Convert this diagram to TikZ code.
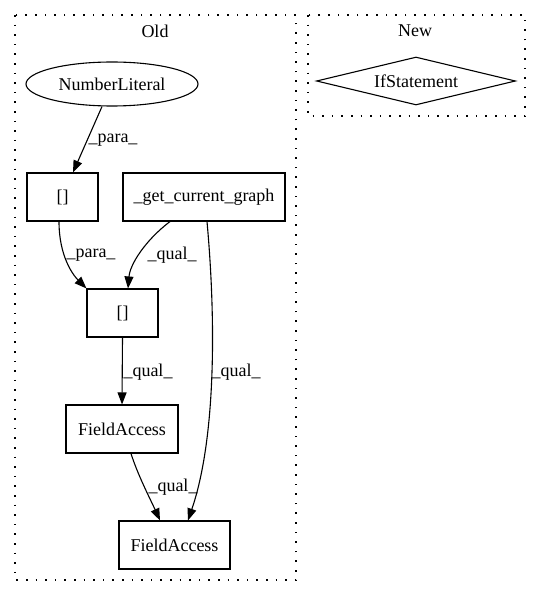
\documentclass[tikz,border=0pt]{standalone}
\usepackage{fontspec}
\setmainfont{Liberation Serif}
\usepackage{tikz}
\usetikzlibrary{arrows.meta}
\usetikzlibrary{shapes.geometric}
\tikzset{
  every node/.style={font=\fontsize{18}{21}\selectfont},
  opbox/.style={draw, line width=1.1pt, rectangle, minimum height=48pt, inner sep=0pt},
  cluster/.style={line width=1.3pt, dash pattern=on 1.6pt off 8pt},
  edge/.style={line width=1.1pt, -{Triangle[length=12pt,width=9pt]}},
  lbl/.style={inner sep=0pt}
}

\begin{document}
\begin{tikzpicture}[x=1pt,y=-1pt]
  \useasboundingbox (0,0) rectangle (541,596);
  %% clusters
  \draw[cluster] (15,15) rectangle (296,580);
  \node (oldlabel) at (155,31) {Old};
  \draw[cluster] (308,15) rectangle (525,116);
  \node (newlabel) at (415,31) {New};
  %% nodes
  \node[draw, line width=1.1pt, ellipse, minimum width=172pt, minimum height=44pt, inner sep=0pt] (lit) at (112,84) {NumberLiteral};
  \node[draw, line width=1.1pt, diamond, aspect=4.1, minimum width=199pt, minimum height=48pt, inner sep=0pt] (ifstmt) at (416,81) {IfStatement};
  \node[opbox, minimum width=71pt] (idxa) at (62.5,197) {[]};
  \node[opbox, minimum width=162pt] (getgraph) at (204,197) {\_get\_current\_graph};
  \node[opbox, minimum width=71pt] (idxb) at (122.5,313) {[]};
  \node[opbox, minimum width=112pt] (fielda) at (122,429) {FieldAccess};
  \node[opbox, minimum width=111pt] (fieldb) at (174.5,545) {FieldAccess};
  %% edges
  \draw[edge] ([xshift=-10pt]lit.south) -- ([xshift=10.5pt]idxa.north);
  \draw[edge] ([xshift=-3.5pt]idxa.south) .. controls +(0,34) and +(-14,-14) .. (idxb.north west);
  \draw[edge] ([xshift=-34pt]getgraph.south) .. controls +(-25,19) and +(2,-24) .. ([xshift=5.5pt]idxb.north);
  \draw[edge] ([xshift=3pt]getgraph.south) .. controls +(9,99) and +(28,-82) .. ([xshift=13.5pt]fieldb.north);
  \draw[edge] (idxb.south) -- (fielda.north);
  \draw[edge] ([xshift=9pt]fielda.south) .. controls +(7,22) and +(-10,-22) .. ([xshift=-14.5pt]fieldb.north);
  %% edge labels
  \node[lbl] (paraa) at (113,140) {\_para\_};
  \node[lbl] (parab) at (91,255) {\_para\_};
  \node[lbl] (quala) at (172,255) {\_qual\_};
  \node[lbl] (qualb) at (148,372) {\_qual\_};
  \node[lbl] (qualc) at (236,372) {\_qual\_};
  \node[lbl] (quald) at (173,487) {\_qual\_};
\end{tikzpicture}
\end{document}
